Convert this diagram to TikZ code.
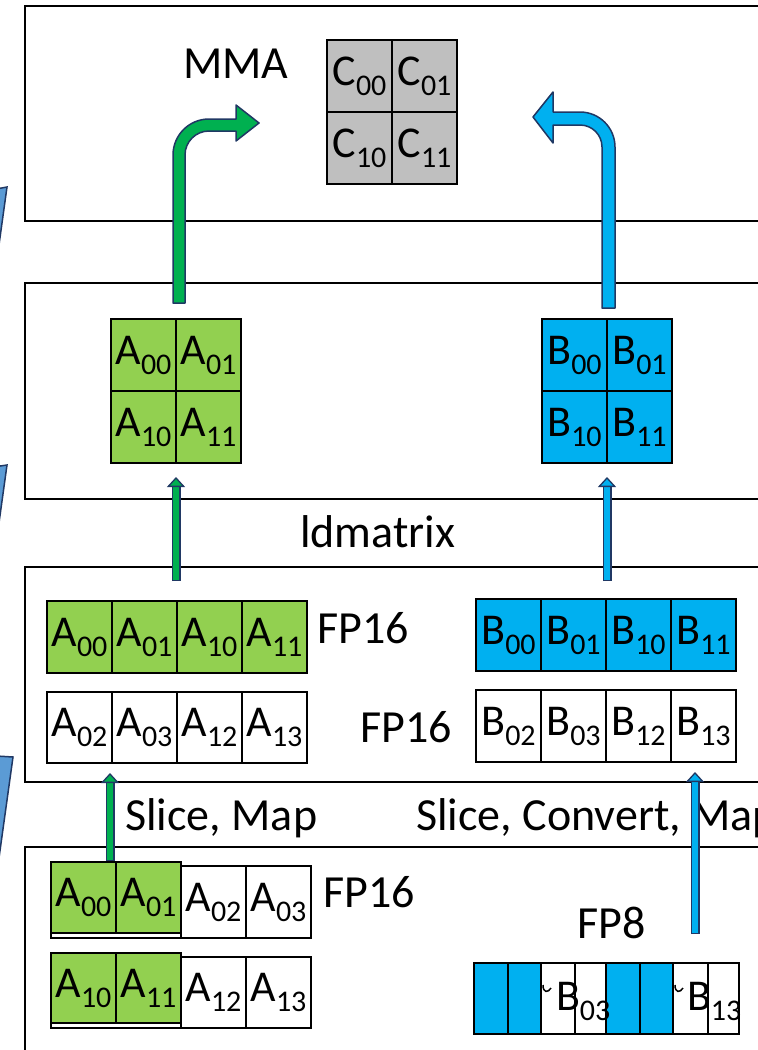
\documentclass[tikz,border=0pt]{standalone}
\usepackage{fontspec}
\setmainfont{Carlito}
\usetikzlibrary{arrows.meta}

\definecolor{agreen}{HTML}{92D050}
\definecolor{bblue}{HTML}{00B0F0}
\definecolor{cgray}{HTML}{BFBFBF}
\definecolor{pathgreen}{HTML}{00B050}
\definecolor{edgenavy}{HTML}{203864}
\definecolor{sideblue}{HTML}{5B9BD5}

% element with index, e.g. \ix{A}{00}
\newcommand{\ix}[2]{#1\raisebox{-10pt}{\fontsize{30}{30}\selectfont #2}}

\tikzset{
  cell/.style={draw, line width=2.5pt, minimum width=65pt, minimum height=72pt,
    inner sep=0pt, outer sep=0pt, anchor=north west, font=\fontsize{44}{44}\selectfont},
  lbl/.style={anchor=base west, inner sep=0pt, font=\fontsize{46}{46}\selectfont},
  layer/.style={draw, line width=2pt},
  side/.style={fill=sideblue, draw=edgenavy, line width=1.5pt},
  bigarrow/.style={draw=edgenavy, line width=1.5pt, line join=round},
  thinback/.style={line width=9pt, draw=edgenavy, shorten <=-1pt},
  thinfront/.style={line width=6pt, draw=#1,
    -{Triangle[length=10pt, width=18pt, fill=#1, color=edgenavy, line width'=1.3pt]}},
}

\begin{document}
\begin{tikzpicture}[x=1pt,y=-1pt]
  \clip (0,0) rectangle (758,1050);
  % pieces coming in from the left
  \filldraw[side] (-20,192) -- (7,187) -- (-2,252) -- (-20,252) -- cycle;
  \filldraw[side] (-20,469) -- (7,465) -- (-2,530) -- (-20,530) -- cycle;
  \filldraw[side] (-20,755) -- (13,757) -- (-2,865) -- (-20,865) -- cycle;

  % layers
  \draw[layer] (25,6) rectangle (790,221);
  \draw[layer] (25,283) rectangle (790,499);
  \draw[layer] (25,567) rectangle (790,782);
  \draw[layer] (25,847) rectangle (790,1070);

  % MMA
  \node[lbl] (mma) at (183,78) {MMA};
  \node[cell, fill=cgray] (c00) at (327,40) {\ix{C}{00}};
  \node[cell, fill=cgray] (c01) at (392,40) {\ix{C}{01}};
  \node[cell, fill=cgray] (c10) at (327,112) {\ix{C}{10}};
  \node[cell, fill=cgray] (c11) at (392,112) {\ix{C}{11}};

  % tiles after ldmatrix
  \node[cell, fill=agreen] (ta00) at (111,319) {\ix{A}{00}};
  \node[cell, fill=agreen] (ta01) at (176,319) {\ix{A}{01}};
  \node[cell, fill=agreen] (ta10) at (111,391) {\ix{A}{10}};
  \node[cell, fill=agreen] (ta11) at (176,391) {\ix{A}{11}};
  \node[cell, fill=bblue] (tb00) at (542,319) {\ix{B}{00}};
  \node[cell, fill=bblue] (tb01) at (607,319) {\ix{B}{01}};
  \node[cell, fill=bblue] (tb10) at (542,391) {\ix{B}{10}};
  \node[cell, fill=bblue] (tb11) at (607,391) {\ix{B}{11}};
  \node[lbl] (ldm) at (300,547) {ldmatrix};

  % registers
  \node[cell, fill=agreen] (ra00) at (47,601) {\ix{A}{00}};
  \node[cell, fill=agreen] (ra01) at (112,601) {\ix{A}{01}};
  \node[cell, fill=agreen] (ra10) at (177,601) {\ix{A}{10}};
  \node[cell, fill=agreen] (ra11) at (242,601) {\ix{A}{11}};
  \node[cell, minimum height=71pt] (ra02) at (47,692) {\ix{A}{02}};
  \node[cell, minimum height=71pt] (ra03) at (112,692) {\ix{A}{03}};
  \node[cell, minimum height=71pt] (ra12) at (177,692) {\ix{A}{12}};
  \node[cell, minimum height=71pt] (ra13) at (242,692) {\ix{A}{13}};
  \node[lbl] (fpa) at (317,643) {FP16};
  \node[cell, fill=bblue] (rb00) at (476,599) {\ix{B}{00}};
  \node[cell, fill=bblue] (rb01) at (541,599) {\ix{B}{01}};
  \node[cell, fill=bblue] (rb10) at (606,599) {\ix{B}{10}};
  \node[cell, fill=bblue] (rb11) at (671,599) {\ix{B}{11}};
  \node[cell] (rb02) at (476,690) {\ix{B}{02}};
  \node[cell] (rb03) at (541,690) {\ix{B}{03}};
  \node[cell] (rb12) at (606,690) {\ix{B}{12}};
  \node[cell] (rb13) at (671,690) {\ix{B}{13}};
  \node[lbl] (fpb) at (360,742) {FP16};

  \node[lbl] (slA) at (125,830) {Slice, Map};
  \node[lbl] (slB) at (416,830) {Slice, Convert, Map};

  % shared memory
  \draw[line width=2.5pt] (51,866) rectangle (181,938);
  \node[cell] (sa02) at (181,866) {\ix{A}{02}};
  \node[cell] (sa03) at (246,866) {\ix{A}{03}};
  \node[cell, fill=agreen, minimum height=71pt] (sa00) at (51,862) {\ix{A}{00}};
  \node[cell, fill=agreen, minimum height=71pt] (sa01) at (116,862) {\ix{A}{01}};
  \draw[line width=2.5pt] (51,957) rectangle (181,1028);
  \node[cell, minimum height=71pt] (sa12) at (181,957) {\ix{A}{12}};
  \node[cell, minimum height=71pt] (sa13) at (246,957) {\ix{A}{13}};
  \node[cell, fill=agreen, minimum height=70pt] (sa10) at (51,953) {\ix{A}{10}};
  \node[cell, fill=agreen, minimum height=70pt] (sa11) at (116,953) {\ix{A}{11}};
  \node[lbl] (fpc) at (323,907) {FP16};

  \node[lbl] (fp8) at (577,938) {FP8};
  \node[cell, fill=bblue, minimum width=34pt, minimum height=71pt] (f1) at (474,963) {};
  \node[cell, fill=bblue, minimum width=33pt, minimum height=71pt] (f2) at (508,963) {};
  \node[cell, minimum width=34pt, minimum height=71pt] (f3) at (541,963) {};
  \node[cell, minimum width=31pt, minimum height=71pt] (f4) at (575,963) {};
  \node[cell, fill=bblue, minimum width=34pt, minimum height=71pt] (f5) at (606,963) {};
  \node[cell, fill=bblue, minimum width=33pt, minimum height=71pt] (f6) at (640,963) {};
  \node[cell, minimum width=35pt, minimum height=71pt] (f7) at (673,963) {};
  \node[cell, minimum width=31pt, minimum height=71pt] (f8) at (708,963) {};
  \node[cell, draw=none, anchor=base west, minimum width=0pt, minimum height=0pt] (fb03) at (556,1010) {\ix{B}{03}};
  \node[cell, draw=none, anchor=base west, minimum width=0pt, minimum height=0pt] (fb13) at (687,1010) {\ix{B}{13}};
  \draw[line width=1.5pt] (543,985) .. controls (543,993) and (548,993) .. (551,988);
  \draw[line width=1.5pt] (675,985) .. controls (675,993) and (680,993) .. (683,988);

  % thin arrows
  \coordinate (ldA) at (176,580);
  \coordinate (ldB) at (607,580);
  \draw[thinback, shorten >=22pt] (ldA) -- (ta10.south east);
  \draw[thinfront=pathgreen, shorten >=14pt] (ldA) -- (ta10.south east);
  \draw[thinback, shorten >=22pt] (ldB) -- (tb10.south east);
  \draw[thinfront=bblue, shorten >=14pt] (ldB) -- (tb10.south east);

  \coordinate (smA) at (110,860);
  \coordinate (smAt) at (110,773);
  \coordinate (smB) at (695,933);
  \coordinate (smBt) at (695,772);
  \draw[thinback, shorten >=8pt] (smA) -- (smAt);
  \draw[thinfront=pathgreen] (smA) -- (smAt);
  \draw[thinback, shorten >=8pt] (smB) -- (smBt);
  \draw[thinfront=bblue] (smB) -- (smBt);

  % arrows into the MMA
  \filldraw[bigarrow, fill=pathgreen] (173,303) -- (173,155)
    arc[start angle=180, end angle=270, radius=36] -- (236,119) -- (236,105)
    -- (259,123) -- (236,141) -- (236,131) -- (209,131)
    arc[start angle=270, end angle=180, radius=24] -- (185,303) -- cycle;
  \filldraw[bigarrow, fill=bblue] (615,308) -- (615,147)
    arc[start angle=0, end angle=-90, radius=35] -- (553,112) -- (553,92)
    -- (533,117) -- (553,143) -- (553,125) -- (580,125)
    arc[start angle=-90, end angle=0, radius=22] -- (602,308) -- cycle;
\end{tikzpicture}
\end{document}
